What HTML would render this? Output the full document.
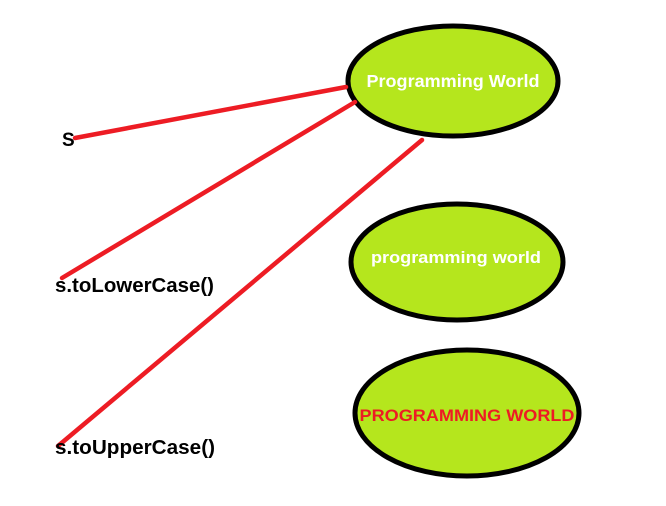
<!DOCTYPE html>
<html><head><meta charset="utf-8"><style>
html,body{margin:0;padding:0;background:#fff;width:666px;height:506px;overflow:hidden}
text{font-family:"Liberation Sans",sans-serif;font-weight:bold}
</style></head><body>
<svg width="666" height="506" viewBox="0 0 666 506" xmlns="http://www.w3.org/2000/svg">
<ellipse cx="453" cy="81" rx="105" ry="55" fill="#b5e61d" stroke="#000" stroke-width="5"/>
<ellipse cx="457" cy="262" rx="106" ry="58" fill="#b5e61d" stroke="#000" stroke-width="5"/>
<ellipse cx="467" cy="413" rx="112" ry="63" fill="#b5e61d" stroke="#000" stroke-width="5"/>
<g stroke="#ed1c24" stroke-width="4.5" stroke-linecap="round">
<line x1="75" y1="138" x2="346" y2="87"/>
<line x1="62" y1="278" x2="355" y2="102"/>
<line x1="58" y1="446" x2="422" y2="140"/>
</g>
<text x="453" y="87" fill="#fff" font-size="17.5" text-anchor="middle" textLength="173" lengthAdjust="spacingAndGlyphs">Programming World</text>
<text x="456" y="263" fill="#fff" font-size="17" text-anchor="middle" textLength="170" lengthAdjust="spacingAndGlyphs">programming world</text>
<text x="467" y="421" fill="#ed1c24" font-size="17" text-anchor="middle" textLength="215" lengthAdjust="spacingAndGlyphs">PROGRAMMING WORLD</text>
<text x="62" y="146" fill="#000" font-size="19">S</text>
<text x="55" y="292" fill="#000" font-size="20" textLength="159" lengthAdjust="spacingAndGlyphs">s.toLowerCase()</text>
<text x="55" y="454" fill="#000" font-size="20" textLength="160" lengthAdjust="spacingAndGlyphs">s.toUpperCase()</text>
</svg>
</body></html>
